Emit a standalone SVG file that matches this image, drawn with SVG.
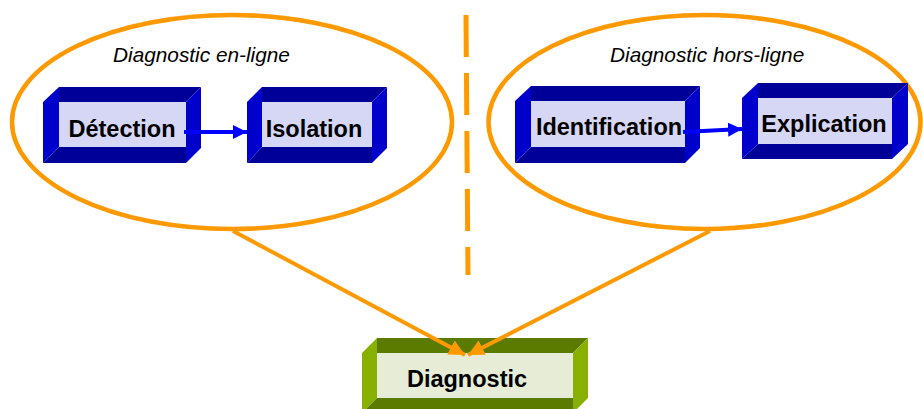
<svg xmlns="http://www.w3.org/2000/svg" width="923" height="409" viewBox="0 0 923 409">
<style>
.ell{fill:none;stroke:#FF9900;stroke-width:4.5}
.dash{fill:none;stroke:#FF9900;stroke-width:5;stroke-dasharray:42 16}
.con{fill:none;stroke:#FF9900;stroke-width:4}
.blu{fill:none;stroke:#0000FF;stroke-width:4}
.bd{fill:#000099}.bb{fill:#0000CC}.bi{fill:#D6D6F5}
.gd{fill:#5A7A00}.gb{fill:#88B000}.gi{fill:#E6ECD6}
.ttl{font-family:"Liberation Sans",Arial,sans-serif;font-style:italic;font-size:20.8px;fill:#000}
.lbl{font-family:"Liberation Sans",Arial,sans-serif;font-weight:bold;font-size:23.5px;fill:#000;text-anchor:middle}
</style>
<defs>
<marker id="oa" markerUnits="userSpaceOnUse" markerWidth="18" markerHeight="18" refX="16" refY="8" orient="auto"><path d="M0,0 L16,8 L0,16 Z" fill="#FF9900"/></marker>
<marker id="ba" markerUnits="userSpaceOnUse" markerWidth="16" markerHeight="16" refX="14" refY="7" orient="auto"><path d="M0,0 L14,7 L0,14 Z" fill="#0000FF"/></marker>
</defs>
<g id="groups">
<ellipse class="ell" cx="232" cy="122" rx="220" ry="107"/>
<ellipse class="ell" cx="704.5" cy="122" rx="216" ry="107"/>
<line class="dash" x1="466" y1="15" x2="468" y2="275"/>
<text class="ttl" x="113" y="62">Diagnostic en-ligne</text>
<text class="ttl" x="610" y="62">Diagnostic hors-ligne</text>
</g>
<g id="detection">
<polygon class="bb" points="43,102 59,87 59,147 43,163"/>
<polygon class="bd" points="59,87 201,87 186,102 59,102"/>
<polygon class="bb" points="186,102 201,87 201,148 186,163"/>
<polygon class="bd" points="43,163 59,147 186,147 186,163"/>
<rect class="bi" x="59" y="102" width="127" height="45"/>
<text class="lbl" x="122" y="137">Détection</text>
</g>
<g id="isolation">
<polygon class="bb" points="247,102 262,87 262,147 247,163"/>
<polygon class="bd" points="262,87 387,87 372,102 262,102"/>
<polygon class="bb" points="372,102 387,87 387,148 372,163"/>
<polygon class="bd" points="247,163 262,147 372,147 372,163"/>
<rect class="bi" x="262" y="102" width="110" height="45"/>
<text class="lbl" x="314" y="137">Isolation</text>
</g>
<g id="identification">
<polygon class="bb" points="515,101 531,86 531,147 515,163"/>
<polygon class="bd" points="531,86 700,86 685,101 531,101"/>
<polygon class="bb" points="685,101 700,86 700,148 685,163"/>
<polygon class="bd" points="515,163 531,147 685,147 685,163"/>
<rect class="bi" x="531" y="101" width="154" height="46"/>
<text class="lbl" x="609" y="135">Identification</text>
</g>
<g id="explication">
<polygon class="bb" points="742,98 758,83 758,144 742,159"/>
<polygon class="bd" points="758,83 908,83 892,98 758,98"/>
<polygon class="bb" points="892,98 908,83 908,144 892,159"/>
<polygon class="bd" points="742,159 758,144 892,144 892,159"/>
<rect class="bi" x="758" y="98" width="134" height="46"/>
<text class="lbl" x="824" y="132">Explication</text>
</g>
<g id="diagnostic">
<polygon class="gb" points="362,353 377,338 377,398 362,413"/>
<polygon class="gd" points="377,338 588,338 573,353 377,353"/>
<polygon class="gb" points="573,353 588,338 588,398 573,413"/>
<polygon class="gd" points="362,413 377,398 573,398 573,413"/>
<rect class="gi" x="377" y="353" width="196" height="45"/>
<text class="lbl" x="467" y="387">Diagnostic</text>
</g>
<g id="connectors">
<line class="con" x1="233" y1="231" x2="465" y2="355" marker-end="url(#oa)"/>
<line class="con" x1="710" y1="231" x2="468" y2="355" marker-end="url(#oa)"/>
<line class="blu" x1="184" y1="132" x2="247" y2="132" marker-end="url(#ba)"/>
<line class="blu" x1="683" y1="132" x2="742" y2="129" marker-end="url(#ba)"/>
</g>
</svg>
